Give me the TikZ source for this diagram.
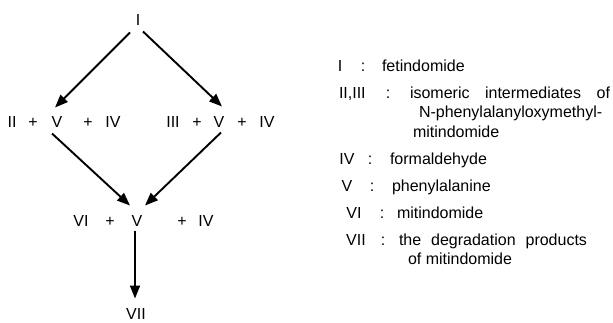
\documentclass[tikz,border=0pt]{standalone}
\usepackage{fontspec}
\setmainfont{Liberation Sans}
\usetikzlibrary{arrows.meta,calc}

\begin{document}
\begin{tikzpicture}[x=1pt,y=-1pt,
  every node/.style={inner sep=0pt,outer sep=0pt,font=\fontsize{16}{19}\selectfont},
  lbl/.style={anchor=base},
  legl/.style={anchor=base west},
  arr/.style={line width=1.9pt,-{Triangle[length=13pt,width=10pt]}}]
\useasboundingbox (0,0) rectangle (613,322);

% reaction scheme
\node[lbl] (I) at (138,25) {I};

\node[lbl] (II)  at (12,127)  {II};
\node[lbl] (p1)  at (33,127)  {+};
\node[lbl] (V1)  at (57,127)  {V};
\node[lbl] (p2)  at (88,127)  {+};
\node[lbl] (IV1) at (113,127) {IV};

\node[lbl] (III) at (173,127) {III};
\node[lbl] (p3)  at (197,127) {+};
\node[lbl] (V2)  at (219,127) {V};
\node[lbl] (p4)  at (242,127) {+};
\node[lbl] (IV2) at (267,127) {IV};

\node[lbl] (VI)  at (81,226)  {VI};
\node[lbl] (p5)  at (110,226) {+};
\node[lbl] (V3)  at (137,226) {V};
\node[lbl] (p6)  at (182,226) {+};
\node[lbl] (IV3) at (206,226) {IV};

\node[lbl] (VII) at (136,319) {VII};

\draw[arr] ($(I)+(-8,13)$)  -- ($(V1)+(-2,-14)$);
\draw[arr] ($(I)+(5,12)$)   -- ($(V2)+(3,-15)$);
\draw[arr] ($(V1)+(-5,12)$) -- ($(V3)+(-7,-15)$);
\draw[arr] ($(V2)+(2,11)$)  -- ($(V3)+(8,-15)$);
\draw[arr] ($(V3)+(-2,10)$) -- ($(VII)+(-1,-15)$);

% legend
\node[lbl]  (kI)   at (340,71)  {I};
\node[lbl]  (cI)   at (363,71)  {:};
\node[legl] (tI)   at (382,71)  {fetindomide};

\node[legl] (kII)  at (339,98)  {II,III};
\node[lbl]  (cII)  at (388,98)  {:};
\node[legl] (tII)  at (410,98)  {\makebox[200pt][s]{isomeric intermediates of}};
\node[legl] (tIIb) at (419,117) {N-phenylalanyloxymethyl-};
\node[legl] (tIIc) at (413,137) {mitindomide};

\node[lbl]  (kIV)  at (347,164) {IV};
\node[lbl]  (cIV)  at (370,164) {:};
\node[legl] (tIV)  at (390,164) {formaldehyde};

\node[lbl]  (kV)   at (347,191) {V};
\node[lbl]  (cV)   at (372,191) {:};
\node[legl] (tV)   at (392,191) {phenylalanine};

\node[lbl]  (kVI)  at (354,218) {VI};
\node[lbl]  (cVI)  at (382,218) {:};
\node[legl] (tVI)  at (397,218) {mitindomide};

\node[lbl]  (kVII) at (356,245) {VII};
\node[lbl]  (cVII) at (383,245) {:};
\node[legl] (tVII) at (399,245) {\makebox[188pt][s]{the degradation products}};
\node[legl] (tVIIb) at (408,264) {of mitindomide};
\end{tikzpicture}
\end{document}
